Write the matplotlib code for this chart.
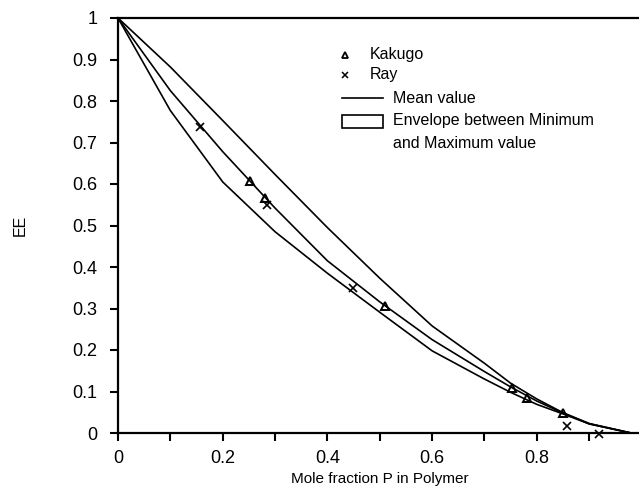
import numpy as np
import matplotlib
matplotlib.use("Agg")
import matplotlib.pyplot as plt
from matplotlib.patches import Rectangle
from matplotlib.lines import Line2D

# ---- data ----
x_grid = [0.0, 0.1, 0.2, 0.3, 0.4, 0.5, 0.6, 0.7, 0.75, 0.8, 0.85, 0.9, 0.98]
ee_max = [1.0, 0.882, 0.753, 0.623, 0.495, 0.373, 0.258, 0.168, 0.120, 0.082, 0.049, 0.023, 0.0]
ee_mean = [1.0, 0.825, 0.678, 0.542, 0.415, 0.316, 0.225, 0.148, 0.111, 0.077, 0.048, 0.022, 0.0]
ee_min = [1.0, 0.777, 0.605, 0.485, 0.385, 0.291, 0.198, 0.130, 0.098, 0.069, 0.046, 0.022, 0.0]

kakugo_x = [0.252, 0.281, 0.51, 0.752, 0.782, 0.851]
kakugo_y = [0.607, 0.566, 0.306, 0.108, 0.084, 0.049]

ray_x = [0.157, 0.284, 0.449, 0.857, 0.919]
ray_y = [0.738, 0.55, 0.349, 0.017, -0.002]

x_major = [0, 0.2, 0.4, 0.6, 0.8]
x_minor = [0.1, 0.3, 0.5, 0.7, 0.9]
y_ticks = [0, 0.1, 0.2, 0.3, 0.4, 0.5, 0.6, 0.7, 0.8, 0.9, 1.0]

plt.rcParams["font.family"] = ["Liberation Sans", "DejaVu Sans"]

fig = plt.figure(figsize=(6.39, 4.91), dpi=100)
ax = fig.add_axes([118 / 639, 1 - 433 / 491, 523.5 / 639, 415 / 491])

ax.plot(x_grid, ee_max, color="black", lw=1.2)
ax.plot(x_grid, ee_mean, color="black", lw=1.2)
ax.plot(x_grid, ee_min, color="black", lw=1.2)

ax.plot(kakugo_x, kakugo_y, ls="none", marker="^", ms=6, mfc="none",
        mec="black", mew=1.4, clip_on=False)
ax.plot(ray_x, ray_y, ls="none", marker="x", ms=6, mec="black", mew=1.2,
        clip_on=False)

ax.set_xlim(0, 1)
ax.set_ylim(0, 1)

ax.set_xticks(x_major)
ax.set_xticklabels(["0", "0.2", "0.4", "0.6", "0.8"])
ax.set_xticks(x_minor, minor=True)
ax.set_yticks(y_ticks)
ax.set_yticklabels(["0", "0.1", "0.2", "0.3", "0.4", "0.5", "0.6", "0.7",
                    "0.8", "0.9", "1"])
ax.tick_params(axis="both", which="both", direction="out", length=6,
               width=1.5, labelsize=13)
ax.tick_params(axis="y", pad=9)
ax.tick_params(axis="x", pad=6)

ax.spines["right"].set_visible(False)
for s in ["left", "bottom", "top"]:
    ax.spines[s].set_linewidth(1.6)

ax.set_xlabel("Mole fraction P in Polymer", fontsize=11, labelpad=4)
ax.set_ylabel("EE", fontsize=11.5, labelpad=32)

# ---- hand-drawn legend (figure pixel coordinates) ----
def fx(px):
    return px / 639

def fy(py):
    return 1 - py / 491

fig.add_artist(Line2D([fx(345)], [fy(55)], marker="^", ms=4.5, mfc="none",
                      mec="black", mew=1.3, ls="none"))
fig.text(fx(370), fy(55), "Kakugo", fontsize=11.5, va="center")
fig.add_artist(Line2D([fx(345)], [fy(75)], marker="x", ms=5, mec="black",
                      mew=1.1, ls="none"))
fig.text(fx(370), fy(75), "Ray", fontsize=11.5, va="center")
fig.add_artist(Line2D([fx(342), fx(383)], [fy(98), fy(98)], color="black",
                      lw=1.2))
fig.text(fx(393), fy(98), "Mean value", fontsize=11.5, va="center")
fig.add_artist(Rectangle((fx(342), fy(128)), fx(41), 13 / 491,
                         facecolor="none", edgecolor="black", lw=1.2))
fig.text(fx(393), fy(121), "Envelope between Minimum", fontsize=11.5,
         va="center")
fig.text(fx(393), fy(143), "and Maximum value", fontsize=11.5, va="center")

fig.savefig("out.png", dpi=100, facecolor="white")
